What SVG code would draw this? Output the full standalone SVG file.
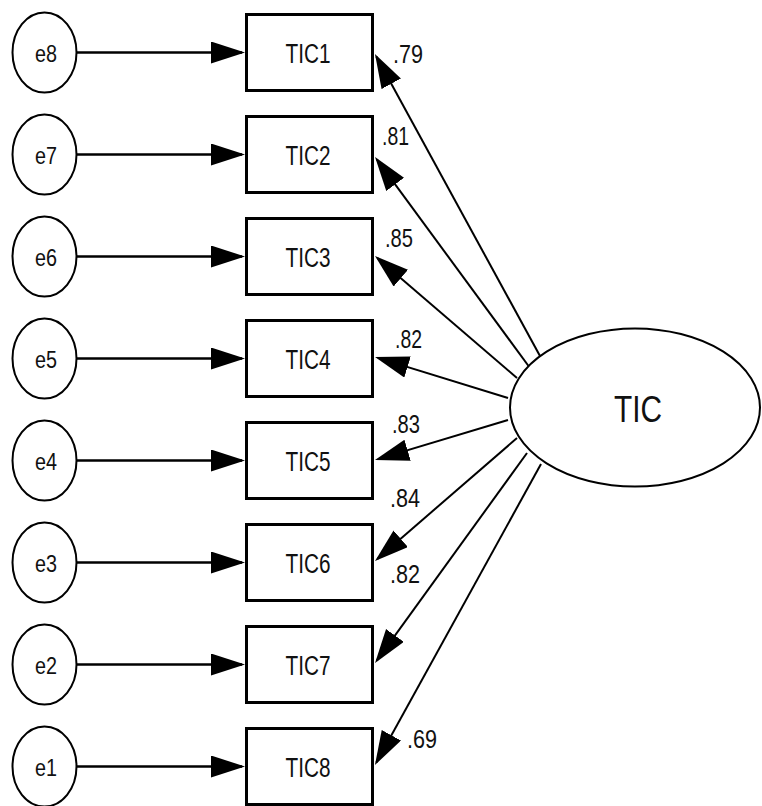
<svg xmlns="http://www.w3.org/2000/svg" width="762" height="806" viewBox="0 0 762 806">
  <defs>
    <marker id="head" markerUnits="userSpaceOnUse" markerWidth="36" markerHeight="24" refX="31" refY="11" orient="auto">
      <path d="M0,0 L34,11 L0,22 Z" fill="#000"/>
    </marker>
  </defs>
  <style>
    .err { fill: #fff; stroke: #000; stroke-width: 2; }
    .obs { fill: #fff; stroke: #000; stroke-width: 3; }
    .lat { fill: #fff; stroke: #000; stroke-width: 2; }
    .lbl { font-family: "Liberation Sans", Arial, sans-serif; fill: #111; text-anchor: middle; }
    .err-t { font-size: 23px; }
    .obs-t { font-size: 27px; }
    .lat-t { font-size: 37px; }
    .coef { font-family: "Liberation Sans", Arial, sans-serif; fill: #111; font-size: 25px; }
    .edge { stroke: #000; fill: none; marker-end: url(#head); }
    .res { stroke-width: 2.5; }
    .load { stroke-width: 2; }
  </style>
  <rect width="762" height="806" fill="#fff"/>

  <!-- connectors: residual paths and factor loadings -->
  <g id="connectors">
    <line class="edge res" x1="77" y1="52.5" x2="242" y2="52.5"/>
    <line class="edge res" x1="77" y1="154.5" x2="242" y2="154.5"/>
    <line class="edge res" x1="77" y1="256.5" x2="242" y2="256.5"/>
    <line class="edge res" x1="77" y1="358.5" x2="242" y2="358.5"/>
    <line class="edge res" x1="77" y1="460.5" x2="242" y2="460.5"/>
    <line class="edge res" x1="77" y1="562.5" x2="242" y2="562.5"/>
    <line class="edge res" x1="77" y1="664.5" x2="242" y2="664.5"/>
    <line class="edge res" x1="77" y1="766.5" x2="242" y2="766.5"/>

    <line class="edge load" x1="540" y1="356" x2="376.4" y2="56.6"/>
    <line class="edge load" x1="530" y1="368" x2="376.8" y2="159.4"/>
    <line class="edge load" x1="517" y1="378" x2="377.3" y2="258"/>
    <line class="edge load" x1="508" y1="398" x2="377.9" y2="357.9"/>
    <line class="edge load" x1="508" y1="420" x2="377.9" y2="459.1"/>
    <line class="edge load" x1="517" y1="438" x2="377.3" y2="559"/>
    <line class="edge load" x1="527" y1="453" x2="376.8" y2="660.6"/>
    <line class="edge load" x1="541" y1="464" x2="376.4" y2="762.4"/>
  </g>

  <!-- error terms -->
  <g id="e8"><ellipse class="err" cx="44.5" cy="52.5" rx="32" ry="40"/><text class="lbl err-t" x="46" y="62" textLength="22" lengthAdjust="spacingAndGlyphs">e8</text></g>
  <g id="e7"><ellipse class="err" cx="44.5" cy="154.5" rx="32" ry="40"/><text class="lbl err-t" x="46" y="164" textLength="22" lengthAdjust="spacingAndGlyphs">e7</text></g>
  <g id="e6"><ellipse class="err" cx="44.5" cy="256.5" rx="32" ry="40"/><text class="lbl err-t" x="46" y="266" textLength="22" lengthAdjust="spacingAndGlyphs">e6</text></g>
  <g id="e5"><ellipse class="err" cx="44.5" cy="358.5" rx="32" ry="40"/><text class="lbl err-t" x="46" y="368" textLength="22" lengthAdjust="spacingAndGlyphs">e5</text></g>
  <g id="e4"><ellipse class="err" cx="44.5" cy="460.5" rx="32" ry="40"/><text class="lbl err-t" x="46" y="470" textLength="22" lengthAdjust="spacingAndGlyphs">e4</text></g>
  <g id="e3"><ellipse class="err" cx="44.5" cy="562.5" rx="32" ry="40"/><text class="lbl err-t" x="46" y="572" textLength="22" lengthAdjust="spacingAndGlyphs">e3</text></g>
  <g id="e2"><ellipse class="err" cx="44.5" cy="664.5" rx="32" ry="40"/><text class="lbl err-t" x="46" y="674" textLength="22" lengthAdjust="spacingAndGlyphs">e2</text></g>
  <g id="e1"><ellipse class="err" cx="44.5" cy="766.5" rx="32" ry="40"/><text class="lbl err-t" x="46" y="776" textLength="22" lengthAdjust="spacingAndGlyphs">e1</text></g>

  <!-- observed indicators -->
  <g id="TIC1"><rect class="obs" x="246.5" y="14.5" width="126" height="76"/><text class="lbl obs-t" x="308" y="63" textLength="45" lengthAdjust="spacingAndGlyphs">TIC1</text></g>
  <g id="TIC2"><rect class="obs" x="246.5" y="116.5" width="126" height="76"/><text class="lbl obs-t" x="308" y="165" textLength="45" lengthAdjust="spacingAndGlyphs">TIC2</text></g>
  <g id="TIC3"><rect class="obs" x="246.5" y="218.5" width="126" height="76"/><text class="lbl obs-t" x="308" y="267" textLength="45" lengthAdjust="spacingAndGlyphs">TIC3</text></g>
  <g id="TIC4"><rect class="obs" x="246.5" y="320.5" width="126" height="76"/><text class="lbl obs-t" x="308" y="369" textLength="45" lengthAdjust="spacingAndGlyphs">TIC4</text></g>
  <g id="TIC5"><rect class="obs" x="246.5" y="422.5" width="126" height="76"/><text class="lbl obs-t" x="308" y="471" textLength="45" lengthAdjust="spacingAndGlyphs">TIC5</text></g>
  <g id="TIC6"><rect class="obs" x="246.5" y="524.5" width="126" height="76"/><text class="lbl obs-t" x="308" y="573" textLength="45" lengthAdjust="spacingAndGlyphs">TIC6</text></g>
  <g id="TIC7"><rect class="obs" x="246.5" y="626.5" width="126" height="76"/><text class="lbl obs-t" x="308" y="675" textLength="45" lengthAdjust="spacingAndGlyphs">TIC7</text></g>
  <g id="TIC8"><rect class="obs" x="246.5" y="728.5" width="126" height="76"/><text class="lbl obs-t" x="308" y="777" textLength="45" lengthAdjust="spacingAndGlyphs">TIC8</text></g>

  <!-- latent factor -->
  <g id="TIC"><ellipse class="lat" cx="635" cy="407.5" rx="125" ry="79"/><text class="lbl lat-t" x="638" y="422" textLength="48" lengthAdjust="spacingAndGlyphs">TIC</text></g>

  <!-- standardized loadings -->
  <g id="loadings">
    <text class="coef" x="393" y="63" textLength="30" lengthAdjust="spacingAndGlyphs">.79</text>
    <text class="coef" x="382" y="145" textLength="27" lengthAdjust="spacingAndGlyphs">.81</text>
    <text class="coef" x="385" y="247" textLength="28" lengthAdjust="spacingAndGlyphs">.85</text>
    <text class="coef" x="395" y="348" textLength="27" lengthAdjust="spacingAndGlyphs">.82</text>
    <text class="coef" x="392" y="433" textLength="28" lengthAdjust="spacingAndGlyphs">.83</text>
    <text class="coef" x="390" y="507" textLength="30" lengthAdjust="spacingAndGlyphs">.84</text>
    <text class="coef" x="390" y="583" textLength="30" lengthAdjust="spacingAndGlyphs">.82</text>
    <text class="coef" x="407" y="748" textLength="30" lengthAdjust="spacingAndGlyphs">.69</text>
  </g>
</svg>
